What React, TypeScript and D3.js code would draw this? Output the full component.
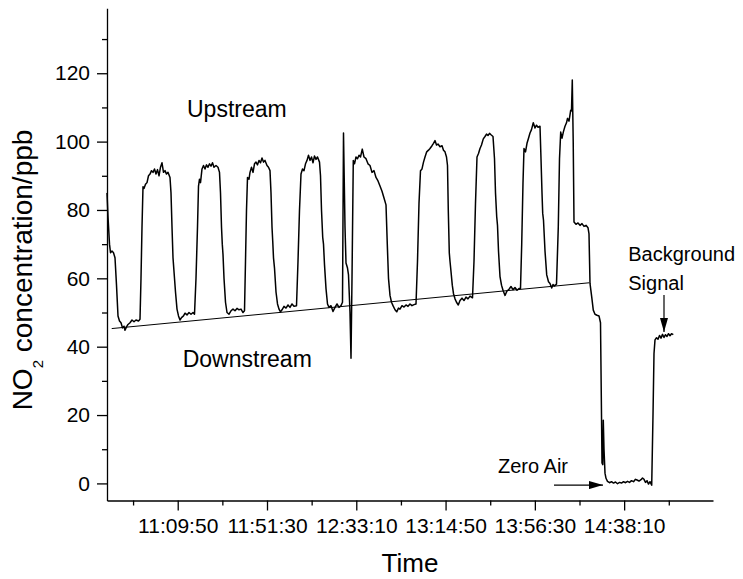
import { useEffect, useRef } from 'react';
import * as d3 from 'd3';

// NO2 trace: [seconds of day, ppb]
const TRACE: [number, number][] = [
  [38210, 85], [38238, 78], [38280, 70], [38308, 67.5], [38350, 68], [38392, 67.5], [38434, 66],
  [38476, 58], [38518, 49], [38560, 47.5], [38602, 47], [38644, 45.5], [38686, 46], [38714, 44.8],
  [38756, 45.8], [38798, 46.5], [38854, 47], [38910, 47.8], [38966, 47.3], [39022, 47.8], [39092, 47.5],
  [39134, 48], [39162, 60], [39190, 75], [39218, 86.8], [39246, 86.3], [39288, 87.5], [39330, 88],
  [39372, 90], [39414, 90.5], [39456, 91.5], [39498, 91], [39540, 92], [39582, 90.5], [39624, 91.8],
  [39666, 90], [39708, 92.5], [39750, 93.8], [39792, 91], [39834, 91.5], [39876, 90.5], [39918, 91],
  [39974, 89.5], [40002, 85], [40030, 75], [40058, 66], [40072, 64], [40086, 62], [40128, 56],
  [40170, 51], [40212, 49], [40254, 47.8], [40296, 48.5], [40352, 49], [40394, 49.8], [40450, 49.3],
  [40506, 50], [40562, 49.5], [40618, 50], [40660, 49.5], [40702, 60], [40744, 75], [40772, 87],
  [40800, 89], [40828, 88], [40870, 92], [40912, 93], [40954, 92], [40996, 93.2], [41038, 92.5],
  [41080, 93.5], [41122, 92.8], [41164, 93.8], [41206, 92.5], [41262, 93], [41318, 92.5], [41360, 91],
  [41388, 85], [41416, 75], [41438, 70], [41458, 67], [41486, 60], [41528, 53], [41570, 50],
  [41626, 49.5], [41682, 50.5], [41738, 51], [41794, 50.5], [41850, 51.2], [41906, 50.8], [41962, 51],
  [42018, 50], [42060, 50.5], [42088, 65], [42116, 80], [42144, 89.5], [42186, 89], [42214, 91],
  [42256, 92.5], [42298, 91], [42340, 93.5], [42382, 94], [42424, 93.2], [42466, 94.5], [42508, 93.8],
  [42550, 95.2], [42592, 94], [42634, 94.5], [42690, 93], [42732, 92.5], [42774, 91.5], [42802, 85],
  [42830, 75], [42850, 71], [42872, 66], [42900, 63], [42942, 56], [42984, 52.5], [43026, 51],
  [43068, 50.2], [43110, 50.8], [43166, 51.8], [43222, 51.3], [43278, 52.2], [43334, 51.5], [43390, 52.5],
  [43446, 51.8], [43516, 52], [43558, 65], [43600, 80], [43642, 90.5], [43684, 92], [43726, 91.5],
  [43768, 93.5], [43810, 94.5], [43852, 96], [43894, 94.5], [43936, 95.5], [43978, 93.8], [44020, 95.8],
  [44062, 94.8], [44104, 95.5], [44160, 94], [44188, 90], [44216, 80], [44250, 72], [44272, 70],
  [44300, 64], [44342, 57], [44384, 52.5], [44426, 51.5], [44482, 52], [44538, 50.3], [44594, 51.5],
  [44650, 52.5], [44706, 51.5], [44762, 52], [44804, 53], [44832, 102.5], [44874, 75], [44902, 64.5],
  [44944, 63], [44972, 61], [45014, 50], [45042, 36.6], [45070, 60], [45106, 94.5], [45140, 93.5],
  [45182, 95.5], [45224, 95], [45266, 96], [45308, 95.5], [45358, 97.8], [45406, 95.5], [45462, 95],
  [45518, 93.5], [45574, 93], [45630, 91], [45686, 91.5], [45742, 89.5], [45798, 88.5], [45854, 87],
  [45910, 85.5], [45966, 83.5], [46022, 81.5], [46058, 70], [46092, 60], [46134, 55], [46176, 53],
  [46218, 52], [46274, 50.8], [46322, 50.2], [46372, 51.3], [46414, 51], [46470, 52], [46526, 51.6],
  [46582, 52.2], [46638, 51.8], [46694, 52.5], [46750, 52], [46806, 52.3], [46862, 52.5], [46904, 65],
  [46946, 82], [46988, 91.5], [47030, 92], [47072, 94], [47114, 95.5], [47162, 97], [47212, 97.5],
  [47254, 98], [47310, 98.8], [47352, 99.5], [47394, 100.3], [47436, 99], [47478, 99.3], [47534, 98.5],
  [47590, 98.8], [47632, 97.5], [47674, 97], [47716, 95.5], [47744, 93], [47766, 80], [47794, 67.5],
  [47814, 65], [47842, 62], [47878, 58], [47912, 55.5], [47954, 54], [47996, 53], [48046, 52.2],
  [48094, 53.5], [48150, 54.2], [48206, 53.5], [48262, 54.5], [48318, 54], [48374, 54.8], [48444, 54.3],
  [48486, 65], [48528, 82], [48570, 95.5], [48612, 96.5], [48654, 98], [48696, 99], [48746, 100.8],
  [48794, 101.5], [48836, 102.2], [48878, 101.8], [48920, 102.4], [48962, 102], [49018, 101.5],
  [49060, 95], [49088, 85], [49122, 78], [49144, 75.5], [49172, 68], [49214, 60.5], [49256, 58],
  [49298, 56.5], [49354, 55], [49410, 56.3], [49466, 56.8], [49522, 57.6], [49578, 56.7], [49634, 57.3],
  [49690, 56.5], [49746, 57], [49788, 57], [49822, 70], [49858, 88], [49886, 98], [49928, 97],
  [49970, 99.5], [50012, 101], [50054, 102.5], [50096, 103.5], [50146, 105.5], [50194, 104],
  [50236, 104.8], [50278, 104.2], [50334, 104.5], [50362, 95], [50390, 85], [50410, 79], [50432, 77],
  [50474, 68], [50522, 61], [50572, 59], [50614, 58.5], [50662, 57.2], [50698, 58.2], [50740, 57.8],
  [50796, 58.3], [50846, 75], [50880, 95], [50914, 102.8], [50950, 101], [50992, 103], [51034, 104.5],
  [51076, 105.5], [51104, 106.8], [51146, 106], [51194, 109.2], [51216, 109], [51238, 118], [51264, 100],
  [51286, 76.5], [51342, 75.8], [51398, 76.2], [51454, 75.5], [51510, 76], [51566, 75.2], [51622, 75.5],
  [51678, 74.8], [51706, 73], [51734, 58.5], [51782, 54.6], [51826, 50.7], [51874, 49.5], [51930, 49.2],
  [51986, 49], [52028, 47], [52056, 20], [52070, 6], [52092, 5.5], [52106, 18.5], [52126, 10],
  [52154, 3], [52182, 1.5], [52224, 0.6], [52280, 0.2], [52336, 0.5], [52392, 0.1], [52448, 0.4],
  [52504, -0.1], [52560, 0.3], [52616, 0.1], [52672, 0.5], [52728, 0.2], [52784, 0.6], [52840, 0.3],
  [52896, 0.8], [52952, 0.5], [53008, 1.2], [53050, 1.0], [53106, 0.7], [53162, 1.1], [53204, 1.6],
  [53246, 1.2], [53288, 0.3], [53330, 0.8], [53372, -0.2], [53414, 0.5], [53462, -0.5], [53498, 20],
  [53526, 38], [53554, 42], [53596, 42.6], [53638, 42.2], [53680, 43.3], [53722, 42.5], [53764, 43.6],
  [53806, 42.7], [53848, 43.5], [53890, 43], [53932, 43.8], [53974, 43.2], [54016, 43.8], [54066, 43.5],
];

// downstream baseline fit
const BASELINE: [number, number][] = [[38342, 45.3], [51714, 58.7]];

const X_DOMAIN = [38210, 55178];
const Y_DOMAIN = [-5, 139];
const X_MAJOR = [40190, 42690, 45190, 47690, 50190, 52690];
const X_LABELS = ['11:09:50', '11:51:30', '12:33:10', '13:14:50', '13:56:30', '14:38:10'];
const X_MINOR = [38940, 41440, 43940, 46440, 48940, 51440, 53940];
const Y_MAJOR = [0, 20, 40, 60, 80, 100, 120];
const Y_MINOR = [10, 30, 50, 70, 90, 110, 130];

const NOTES = [
  { text: 'Upstream', t: 40450, v: 107.1, size: 23 },
  { text: 'Downstream', t: 40330, v: 34.1, size: 23 },
  { text: 'Zero Air', t: 49158, v: 2.9, size: 20 },
  { text: 'Background', t: 52806, v: 65.1, size: 20 },
  { text: 'Signal', t: 52806, v: 56.5, size: 20 },
];

const ARROWS: [number, number, number, number][] = [
  [50726, -0.5, 52098, -0.5],
  [53806, 55.1, 53806, 44.3],
];

const FONT = 'Arial, "Liberation Sans", sans-serif';

export default function App() {
  const svgRef = useRef<SVGSVGElement>(null);

  useEffect(() => {
    if (!svgRef.current) return;
    const width = 743;
    const height = 579;
    const left = 107, right = 713, top = 8.3, bottom = 500.5;

    const svg = d3.select(svgRef.current);
    svg.selectAll('*').remove();

    const x = d3.scaleLinear().domain(X_DOMAIN).range([left, right]);
    const y = d3.scaleLinear().domain(Y_DOMAIN).range([bottom, top]);

    svg.append('rect').attr('width', width).attr('height', height).attr('fill', 'white');

    svg.append('defs').append('marker')
      .attr('id', 'head')
      .attr('viewBox', '0 0 14 8')
      .attr('refX', 14).attr('refY', 4)
      .attr('markerWidth', 14).attr('markerHeight', 8)
      .attr('markerUnits', 'userSpaceOnUse')
      .attr('orient', 'auto')
      .append('path').attr('d', 'M0,0 L14,4 L0,8 Z').attr('fill', '#000');

    // minor ticks
    svg.append('g')
      .attr('transform', `translate(0,${bottom})`)
      .call(d3.axisBottom(x).tickValues(X_MINOR).tickSize(5).tickSizeOuter(0).tickFormat(() => ''))
      .call(g => g.select('.domain').remove())
      .call(g => g.selectAll('.tick line').attr('stroke', '#000').attr('stroke-width', 1.3));
    svg.append('g')
      .attr('transform', `translate(${left},0)`)
      .call(d3.axisLeft(y).tickValues(Y_MINOR).tickSize(5).tickSizeOuter(0).tickFormat(() => ''))
      .call(g => g.select('.domain').remove())
      .call(g => g.selectAll('.tick line').attr('stroke', '#000').attr('stroke-width', 1.3));

    // major axes
    svg.append('g')
      .attr('transform', `translate(0,${bottom})`)
      .call(d3.axisBottom(x).tickValues(X_MAJOR).tickSize(10).tickSizeOuter(0).tickPadding(8)
        .tickFormat((_, i) => X_LABELS[i]))
      .call(g => g.select('.domain').attr('stroke', '#000').attr('stroke-width', 1.3))
      .call(g => g.selectAll('.tick line').attr('stroke', '#000').attr('stroke-width', 1.3))
      .call(g => g.selectAll('.tick text').attr('fill', '#000').attr('font-size', 21).attr('font-family', FONT));
    svg.append('g')
      .attr('transform', `translate(${left},0)`)
      .call(d3.axisLeft(y).tickValues(Y_MAJOR).tickSize(10).tickSizeOuter(0).tickPadding(7))
      .call(g => g.select('.domain').attr('stroke', '#000').attr('stroke-width', 1.3))
      .call(g => g.selectAll('.tick line').attr('stroke', '#000').attr('stroke-width', 1.3))
      .call(g => g.selectAll('.tick text').attr('fill', '#000').attr('font-size', 21).attr('font-family', FONT));

    // baseline
    svg.append('path')
      .datum(BASELINE)
      .attr('d', d3.line<[number, number]>().x(d => x(d[0])).y(d => y(d[1])))
      .attr('fill', 'none').attr('stroke', '#000').attr('stroke-width', 1);

    // trace
    svg.append('path')
      .datum(TRACE)
      .attr('d', d3.line<[number, number]>().x(d => x(d[0])).y(d => y(d[1])))
      .attr('fill', 'none').attr('stroke', '#000').attr('stroke-width', 1.5)
      .attr('stroke-linejoin', 'round');

    // notes
    NOTES.forEach(n => {
      svg.append('text')
        .attr('x', x(n.t)).attr('y', y(n.v))
        .attr('font-size', n.size).attr('font-family', FONT).attr('fill', '#000')
        .text(n.text);
    });

    ARROWS.forEach(([t0, v0, t1, v1]) => {
      svg.append('line')
        .attr('x1', x(t0)).attr('y1', y(v0)).attr('x2', x(t1)).attr('y2', y(v1))
        .attr('stroke', '#000').attr('stroke-width', 1.2)
        .attr('marker-end', 'url(#head)');
    });

    // axis titles
    svg.append('text')
      .attr('x', (left + right) / 2).attr('y', 572)
      .attr('text-anchor', 'middle')
      .attr('font-size', 26).attr('font-family', FONT).attr('fill', '#000')
      .text('Time');

    const yt = svg.append('text')
      .attr('transform', 'translate(32,270) rotate(-90)')
      .attr('text-anchor', 'middle')
      .attr('font-size', 28).attr('font-family', FONT).attr('fill', '#000');
    yt.append('tspan').text('NO');
    yt.append('tspan').attr('dy', 11).attr('font-size', 15).text('2');
    yt.append('tspan').attr('dy', -11).text(' concentration/ppb');
  }, []);

  return (
    <svg
      ref={svgRef}
      width={743}
      height={579}
      style={{ position: 'absolute', left: 0, top: 0, display: 'block' }}
    />
  );
}
